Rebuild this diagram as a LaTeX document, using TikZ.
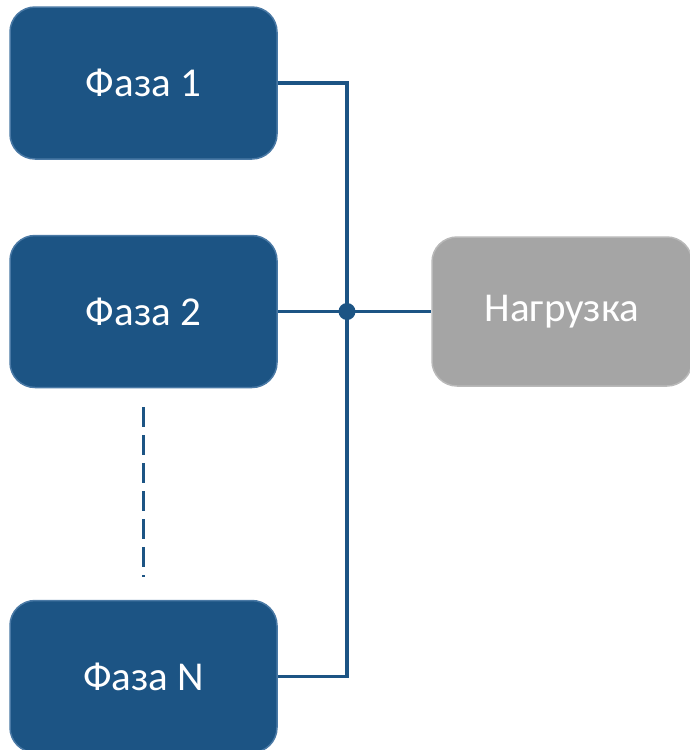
\documentclass[tikz,border=0pt]{standalone}
\usepackage{fontspec}
\setmainfont{Carlito}
\usetikzlibrary{positioning}
\usetikzlibrary{calc}
\definecolor{phaseblue}{RGB}{28,84,132}
\definecolor{phaseborder}{RGB}{74,121,165}
\definecolor{loadgray}{RGB}{165,165,165}
\definecolor{loadborder}{RGB}{185,185,185}
\tikzstyle{phase}=[rectangle,rounded corners=25pt,fill=phaseblue,draw=phaseborder,line width=1.5pt,minimum width=267pt,minimum height=152pt,inner sep=0pt,text=white,font=\fontsize{41}{44}\selectfont]
\tikzstyle{load}=[rectangle,rounded corners=25pt,fill=loadgray,draw=loadborder,line width=1.5pt,minimum width=260pt,minimum height=149pt,inner sep=0pt,text=white,font=\fontsize{41}{44}\selectfont]
\tikzstyle{wire} = [draw,phaseblue,line width=3.5pt]
\tikzstyle{junction} = [circle,fill=phaseblue,minimum size=17pt,inner sep=0pt]

\begin{document}
\begin{tikzpicture}[x=1pt,y=-1pt]
  \useasboundingbox (0,0) rectangle (690,750);

   \foreach \pos/\name/\label in {{(143.5,83)/f1/Фаза 1}, {(143.5,311.5)/f2/Фаза 2}, {(143.5,676.5)/fn/Фаза N}}
        \node[phase] (\name) at \pos {\label};
   \node[load] (load) at (562,311.5) {Нагрузка};

   \coordinate (j) at (347,311.5);
   \coordinate (top) at (347,83);
   \coordinate (bot) at (347,676.5);

    % connect phases to the common bus
  \path[wire] (f1.east) -- (top) -- (bot) -- (fn.east);
  \path[wire] (f2.east) -- (j) -- (load.west);
  \node[junction] at (j) {};

  \coordinate (dtop) at (143.5,407);
  \coordinate (dbot) at (143.5,577);
  \path[wire,dash pattern=on 20pt off 8pt] (dtop) -- (dbot);

\end{tikzpicture}
\end{document}
